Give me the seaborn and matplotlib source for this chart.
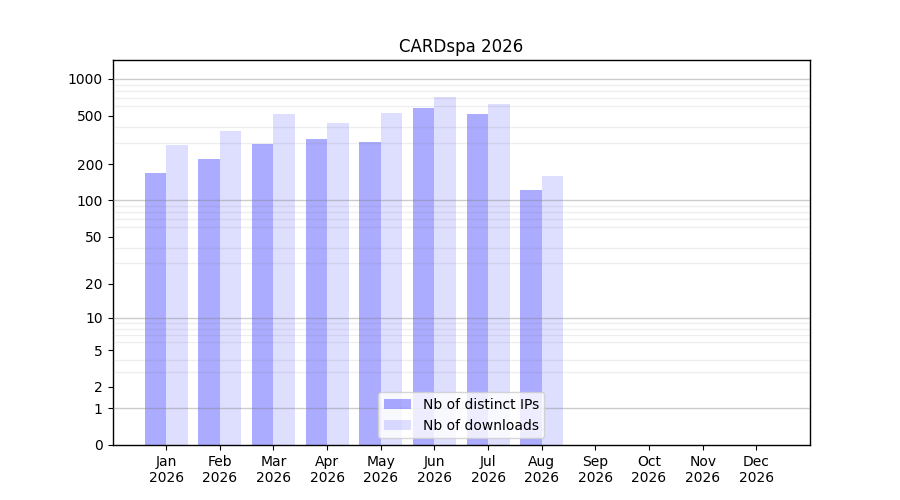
import numpy as np
import pandas as pd
import matplotlib
matplotlib.use("Agg")
import matplotlib.pyplot as plt
import seaborn as sns
from matplotlib.ticker import FixedLocator, NullFormatter

# ---------- Data ----------
months = ["Jan", "Feb", "Mar", "Apr", "May", "Jun",
          "Jul", "Aug", "Sep", "Oct", "Nov", "Dec"]
year = 2026
distinct_ips = [170, 221, 294, 323, 305, 581, 518, 123, 0, 0, 0, 0]
downloads = [288, 377, 519, 437, 529, 715, 626, 160, 0, 0, 0, 0]
series_names = ["Nb of distinct IPs", "Nb of downloads"]
y_ticks = [0, 1, 2, 5, 10, 20, 50, 100, 200, 500, 1000]

df = pd.DataFrame({
    "Month": months * 2,
    "Count": distinct_ips + downloads,
    "Series": [series_names[0]] * len(months) + [series_names[1]] * len(months),
})

sns.set_style("white", rc={"text.color": "black", "axes.labelcolor": "black",
                           "xtick.color": "black", "ytick.color": "black",
                           "axes.edgecolor": "black"})
plt.rcParams["font.family"] = ["DejaVu Sans"]

fig, ax = plt.subplots(figsize=(9, 5), dpi=100)

# log10(1 + x) scale, so zero months still sit on the axis
ax.set_yscale("function", functions=(lambda v: np.log10(1 + np.clip(v, 0, None)),
                                      lambda v: 10 ** v - 1))

sns.barplot(data=df, x="Month", y="Count", hue="Series", order=months,
            hue_order=series_names, palette=["blue", "blue"], saturation=1,
            width=0.8, linewidth=0, ax=ax, legend=False)

# seaborn palette gives the same colour, so fade each series separately
for patch in ax.containers[0]:
    patch.set_alpha(0.33)
    patch.set_linewidth(0)
for patch in ax.containers[1]:
    patch.set_alpha(0.13)
    patch.set_linewidth(0)

ax.set_ylim(0, max(downloads) * 2)
ax.set_xlim(-1, len(months))
ax.set_yticks(y_ticks)
ax.set_yticklabels([str(t) for t in y_ticks])

minor = [m * 10 ** e for e in range(0, 4) for m in range(2, 10)]
ax.yaxis.set_minor_locator(FixedLocator(minor))
ax.yaxis.set_minor_formatter(NullFormatter())
ax.tick_params(axis="y", which="minor", length=0)
ax.tick_params(axis="both", which="major", length=3.5, direction="out",
               left=True, bottom=True, labelsize=10, colors="black")

ax.set_axisbelow(False)
ax.grid(False)
for v in [1, 10, 100, 1000]:
    ax.axhline(v, color="gray", alpha=0.4, lw=1, zorder=3)
ax.yaxis.grid(True, which="minor", color="gray", alpha=0.13, lw=1)

ax.set_xticks(range(len(months)))
ax.set_xticklabels([f"{m}\n{year}" for m in months])
ax.set_xlabel("")
ax.set_ylabel("")
ax.set_title(f"CARDspa {year}", fontsize=12, color="black")

for side in ["top", "right", "left", "bottom"]:
    ax.spines[side].set_visible(True)
    ax.spines[side].set_color("black")
    ax.spines[side].set_linewidth(1)

handles = [ax.containers[0][0], ax.containers[1][0]]
ax.legend(handles, series_names, loc="lower center", fontsize=10)

fig.savefig("out.png", dpi=100)
plt.close(fig)
